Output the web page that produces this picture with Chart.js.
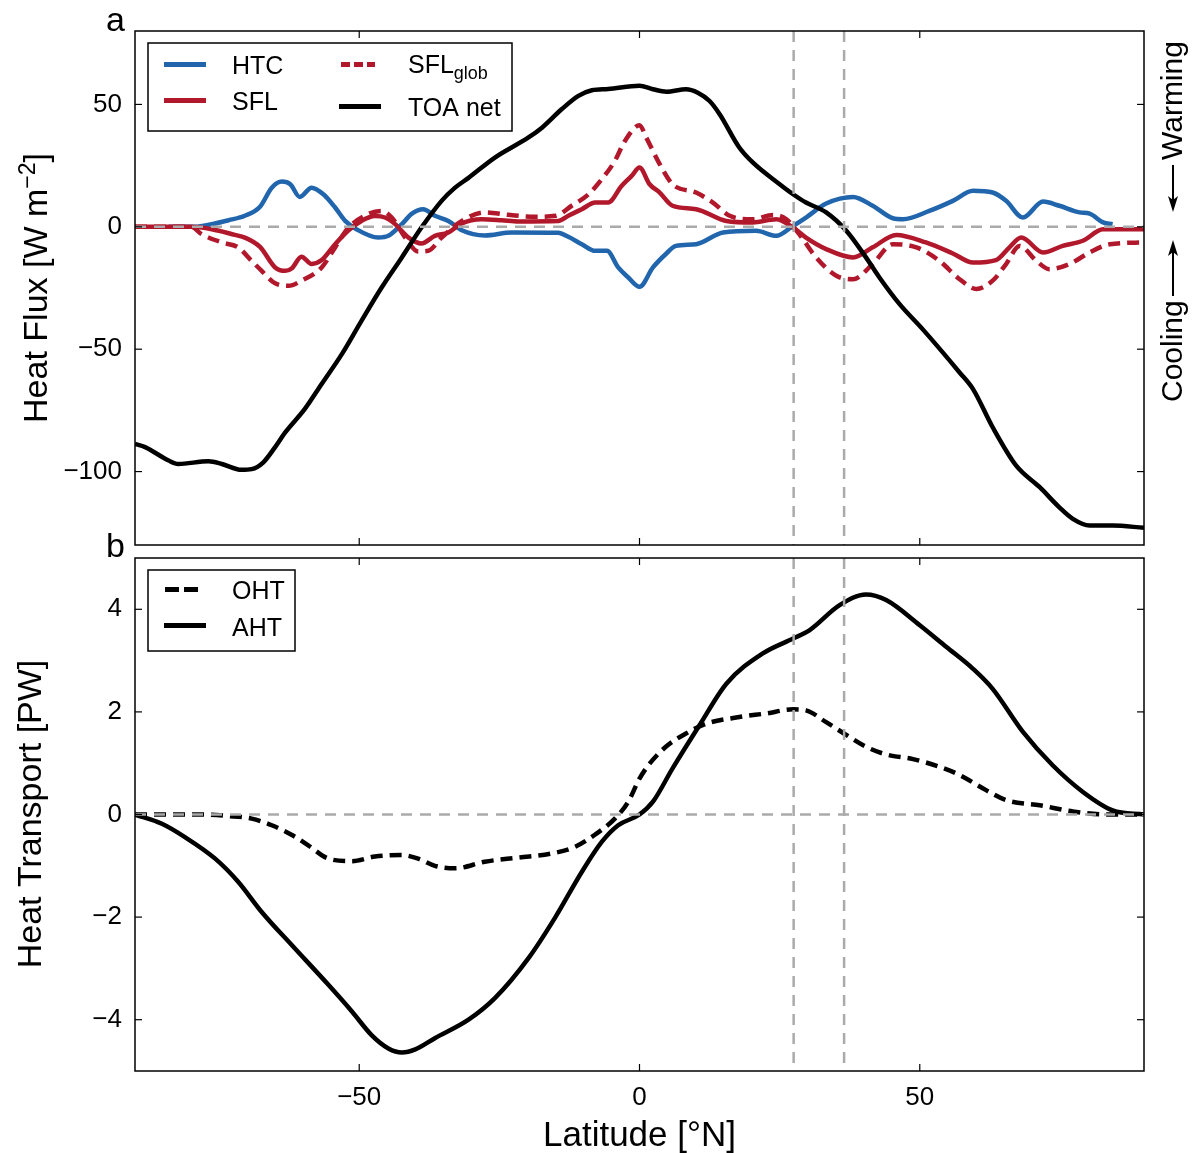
<!DOCTYPE html>
<html>
<head>
<meta charset="utf-8">
<script src="https://cdn.jsdelivr.net/npm/chart.js@4.4.0/dist/chart.umd.min.js"></script>
<style>
  html, body { margin: 0; padding: 0; background: #fff; }
  #wrap { position: relative; width: 1192px; height: 1153px; }
  #topBox { position: absolute; left: 0; top: 0; width: 1192px; height: 560px; }
  #botBox { position: absolute; left: 0; top: 548px; width: 1192px; height: 605px; }
</style>
</head>
<body>
<div id="wrap">
  <div id="topBox"><canvas id="fluxChart"></canvas></div>
  <div id="botBox"><canvas id="transportChart"></canvas></div>
</div>
<script>
// ticks and reference lines
const latTicks = [-50, 0, 50];
const fluxTicks = [-100, -50, 0, 50];
const transportTicks = [-4, -2, 0, 2, 4];
const refLat = [27.5, 36.5];

// panel a : heat flux [W m-2]
const htcLat = [-84,-79.3,-76.3,-73.3,-70.4,-67.7,-65.6,-63.8,-62.3,-60.6,-58.5,-56.4,-54.3,-52.5,-50.5,-46.6,-44.8,-42.4,-40.6,-38.6,-36.5,-34.1,-31.7,-27.6,-22.8,-14.5,-12.7,-10.3,-7.9,-5.8,-3.8,-2,0,2.4,4.8,6.5,10.1,14.9,20.8,24.4,27.4,29.7,33.3,38.1,41.6,45.2,47,51.7,55.9,59.5,63,65.4,68.4,72,74.9,78.5,80.3,82.7,84.4];
const htcVal = [0,0,1.1,2.7,4.5,8.2,16,18.5,17.4,12.2,16,13.3,7.9,2.4,-1,-4.4,-3.7,1.1,5.4,7.2,4.5,2.4,-1.4,-3.5,-2.3,-2.4,-4.1,-7.1,-9.8,-9.8,-16.6,-20.7,-24.5,-16.6,-10.9,-7.8,-7.1,-2.3,-1.6,-3.7,0.4,3.8,9.5,12.2,8.6,3.5,3.1,6.5,10.6,14.7,14,10.6,3.8,10.3,8.6,5.9,5.4,1.8,1.1];

const sflLat = [-90,-80,-76.3,-72.2,-70.4,-67.7,-65,-63.2,-62,-60.3,-58.5,-56.7,-54.3,-51.9,-49.6,-47.2,-45.4,-43.6,-41.2,-38.9,-36.5,-34.1,-31.7,-28.2,-24.6,-21.6,-14.5,-12.7,-10.3,-7.9,-5.6,-3.2,-1.4,0,1.8,3.6,5.9,10.1,15.5,20.2,24.4,27.4,29.7,33.3,38.1,41.6,45.8,51.1,55.9,59.5,63.6,66,68.1,72,75.5,79.1,82.7,90];
const sflVal = [0,0,-1,-3.3,-4.4,-8.2,-16.6,-18,-16.9,-12.2,-15.2,-13.6,-7.1,-1.4,2.4,4.4,3.8,1.1,-4.4,-6.8,-3.7,-2.3,1.4,3.1,2.7,2.2,2.4,4.5,7.2,9.9,9.9,16.7,20.8,24.2,17.4,14,8.6,7.2,2.4,1.8,3.1,-0.3,-4.4,-9.1,-12.5,-8.4,-3.3,-6.4,-10.9,-14.6,-13.6,-8.4,-4.4,-10.5,-7.8,-5.7,-1,-1];

const sflGlobLat = [-90,-80,-78.1,-74.5,-71.6,-69.2,-67.4,-65,-62.6,-60.3,-56.7,-54.3,-51.9,-48.4,-46,-44.2,-41.8,-39.5,-37.7,-35.3,-31.7,-27.6,-23.4,-18.6,-15,-12.1,-9.1,-6.7,-4.4,-2.6,0,1.2,3.6,5.9,10.1,13.1,16.1,20.2,23.8,26.2,28.5,31.5,35.1,38.1,41.6,45.2,49.4,53.5,57.1,60.1,63,65.4,67.8,70.8,73.1,76.7,80.3,83.9,90];
const sflGlobVal = [0,0,-3,-6.4,-8.4,-13.9,-18,-23.1,-24.1,-22,-16.6,-8.4,-0.3,5.2,6.5,3.8,-4.4,-10.1,-9.8,-4.4,2.4,5.9,4.9,4.1,4.5,8.6,13.3,19.5,26.9,35.1,41.5,36.5,25.6,17.4,14,9.9,4.5,3.1,4.8,3.1,-3,-12.5,-20,-21.4,-15.2,-7.1,-8.4,-13.9,-21.4,-25.4,-22,-15.2,-7.8,-13.9,-17.3,-15.2,-10.5,-7.1,-6.4];

const toaLat = [-90,-88.2,-84,-82.3,-76.9,-74.5,-71,-69.2,-67.1,-65,-63.2,-59.7,-56.7,-53.1,-49.6,-46,-42.4,-38.9,-35.3,-32.9,-30.5,-25.8,-19.8,-17.4,-13.9,-10.9,-8.5,-5.6,0,2.4,4.8,8.3,10.4,12.5,14.3,17.8,20.2,25,27.4,29.7,33.3,36.9,40.4,42.8,46.4,50.5,57.1,59.5,63,67.2,71.4,74.9,77.3,80.3,84.4,90];
const toaVal = [-88.7,-90,-95.5,-96.9,-95.8,-96.9,-99.3,-99,-96.2,-90,-84,-74.4,-64.2,-52,-38.4,-24.8,-12.5,-0.3,10.6,16,20,28.3,36.5,40.5,48,53.5,55.8,56.3,57.6,56.2,55.2,56.2,54.8,51.4,46,32.4,26.3,17.4,13.3,9.9,5.9,-1.6,-12.5,-20.7,-31.6,-41.8,-59.5,-66.3,-81.9,-97.6,-106.4,-114.6,-119.3,-122,-122,-123];

// panel b : heat transport [PW]
const ohtLat = [-90,-78.1,-73.3,-69.2,-65.6,-62,-59.1,-55.5,-51.3,-47.2,-42.4,-39.5,-36.5,-32.9,-27.6,-21.6,-15.7,-11.5,-7.9,-4.4,-2,0,1.8,4.8,8.3,11.9,17.8,22.6,27.4,29.7,33.3,36.9,40.4,44,48.8,53.5,57.1,61.9,65.4,71.4,77.3,83.3,90];
const ohtVal = [0,0,-0.03,-0.08,-0.21,-0.4,-0.6,-0.86,-0.91,-0.82,-0.79,-0.86,-1.0,-1.05,-0.92,-0.84,-0.76,-0.63,-0.39,-0.08,0.25,0.7,0.99,1.33,1.58,1.77,1.9,1.97,2.05,2.03,1.8,1.55,1.32,1.17,1.08,0.93,0.77,0.47,0.28,0.18,0.06,0,0];

const ahtLat = [-90,-85.2,-81.1,-75.7,-71.6,-67.4,-62,-55.5,-51.3,-47.8,-44.8,-42.4,-40,-36.5,-30.5,-25.8,-19.8,-15,-10.3,-6.7,-3.8,0,2.4,5.9,10.7,15.5,22,27.4,30.3,35.7,40.4,44,50,54.7,59.5,63,68.4,73.7,79.1,84.4,90];
const ahtVal = [0,-0.18,-0.44,-0.86,-1.31,-1.9,-2.55,-3.32,-3.84,-4.3,-4.56,-4.64,-4.58,-4.36,-4.0,-3.58,-2.8,-2.0,-1.12,-0.53,-0.21,0,0.25,0.9,1.74,2.55,3.14,3.43,3.59,4.08,4.29,4.18,3.69,3.27,2.84,2.45,1.61,0.96,0.44,0.08,0];

const BLUE = '#2166ac';
const RED = '#b2182b';
const GREY = '#aaaaaa';
const FONT = '"Liberation Sans", Arial, Helvetica, sans-serif';

function pts(xs, ys) {
  return xs.map((v, i) => ({ x: v, y: ys[i] }));
}

function minus(v) {
  return v < 0 ? '\u2212' + Math.abs(v) : String(v);
}

function line(ctx, x1, y1, x2, y2) {
  ctx.beginPath();
  ctx.moveTo(x1, y1);
  ctx.lineTo(x2, y2);
  ctx.stroke();
}

// text made of pieces of different size, [text, size, rise]
function richText(ctx, parts, x, y, center) {
  let w = 0;
  parts.forEach(p => { ctx.font = p[1] + 'px ' + FONT; w += ctx.measureText(p[0]).width; });
  let cx = center ? x - w / 2 : x;
  parts.forEach(p => {
    ctx.font = p[1] + 'px ' + FONT;
    ctx.fillText(p[0], cx, y - p[2]);
    cx += ctx.measureText(p[0]).width;
  });
}

function arrow(ctx, x, yFrom, yTo) {
  const dir = yTo > yFrom ? 1 : -1;
  ctx.lineWidth = 2;
  line(ctx, x, yFrom, x, yTo - dir * 8);
  ctx.beginPath();
  ctx.moveTo(x, yTo);
  ctx.lineTo(x - 5, yTo - dir * 16);
  ctx.lineTo(x, yTo - dir * 12);
  ctx.lineTo(x + 5, yTo - dir * 16);
  ctx.closePath();
  ctx.fill();
}

const panelDeco = {
  id: 'panelDeco',
  afterDatasetsDraw(chart, args, opts) {
    const { ctx, chartArea: a, scales: { x, y } } = chart;
    ctx.save();
    ctx.beginPath();
    ctx.rect(a.left, a.top, a.right - a.left, a.bottom - a.top);
    ctx.clip();
    ctx.strokeStyle = GREY;
    ctx.lineWidth = 2.5;
    ctx.setLineDash([11, 8]);
    refLat.forEach(v => {
      const px = x.getPixelForValue(v);
      line(ctx, px, a.top, px, a.bottom);
    });
    const py = y.getPixelForValue(0);
    line(ctx, a.left, py, a.right, py);
    ctx.restore();
  },
  afterDraw(chart, args, opts) {
    const { ctx, chartArea: a, scales: { x, y } } = chart;
    ctx.save();
    ctx.strokeStyle = '#000';
    ctx.fillStyle = '#000';
    ctx.setLineDash([]);
    ctx.lineWidth = 1.5;
    ctx.strokeRect(a.left, a.top, a.right - a.left, a.bottom - a.top);
    ctx.lineWidth = 1.2;
    latTicks.forEach(v => {
      const px = x.getPixelForValue(v);
      line(ctx, px, a.top, px, a.top + 7);
      line(ctx, px, a.bottom, px, a.bottom - 7);
    });
    opts.yTicks.forEach(v => {
      const py = y.getPixelForValue(v);
      line(ctx, a.left, py, a.left + 7, py);
      line(ctx, a.right, py, a.right - 7, py);
    });

    // legend
    const b = opts.legendBox;
    ctx.fillStyle = '#fff';
    ctx.fillRect(b[0], b[1], b[2], b[3]);
    ctx.lineWidth = 1.5;
    ctx.strokeStyle = '#000';
    ctx.strokeRect(b[0], b[1], b[2], b[3]);
    ctx.textAlign = 'left';
    ctx.textBaseline = 'alphabetic';
    opts.legend.forEach(it => {
      ctx.strokeStyle = it.color;
      ctx.lineWidth = 5;
      ctx.setLineDash(it.dash || []);
      line(ctx, it.line[0], it.line[2], it.line[1], it.line[2]);
      ctx.setLineDash([]);
      ctx.fillStyle = '#000';
      richText(ctx, it.text, it.tx, it.ty, false);
    });

    // axis titles and panel letters
    ctx.fillStyle = '#000';
    opts.texts.forEach(t => {
      ctx.save();
      ctx.translate(t.x, t.y);
      if (t.rot) ctx.rotate(-Math.PI / 2);
      richText(ctx, t.parts, 0, 0, t.center);
      ctx.restore();
    });
    if (opts.arrows) {
      opts.arrows.forEach(ar => arrow(ctx, ar[0], ar[1], ar[2]));
    }
    ctx.restore();
  }
};

function lineSet(label, xs, ys, color, dash, order) {
  return {
    label: label,
    data: pts(xs, ys),
    borderColor: color,
    borderWidth: 4.5,
    borderDash: dash,
    pointRadius: 0,
    fill: false,
    cubicInterpolationMode: 'monotone',
    borderJoinStyle: 'round',
    order: order
  };
}

function xScale(show) {
  return {
    type: 'linear', min: -90, max: 90, display: show,
    afterBuildTicks: s => { s.ticks = latTicks.map(v => ({ value: v })); },
    afterFit: s => {
      if (show) s.height = 82;
      s.paddingLeft = 0;
      s.paddingRight = 0;
    },
    grid: { display: false, drawTicks: false },
    border: { display: false },
    ticks: { padding: 11, maxRotation: 0, color: '#000', font: { family: FONT, size: 26 }, callback: v => minus(v) }
  };
}

function yScale(min, max, list) {
  return {
    type: 'linear', min: min, max: max,
    afterBuildTicks: s => { s.ticks = list.map(v => ({ value: v })); },
    afterFit: s => {
      s.width = 135;
      s.paddingTop = 0;
      s.paddingBottom = 0;
    },
    grid: { display: false, drawTicks: false },
    border: { display: false },
    ticks: { padding: 13, color: '#000', font: { family: FONT, size: 26 }, callback: v => minus(v) }
  };
}

new Chart(document.getElementById('fluxChart'), {
  type: 'line',
  data: {
    datasets: [
      lineSet('HTC', htcLat, htcVal, BLUE, [], 3),
      lineSet('SFL', sflLat, sflVal, RED, [], 2),
      lineSet('SFLglob', sflGlobLat, sflGlobVal, RED, [12, 7], 1),
      lineSet('TOA net', toaLat, toaVal, '#000', [], 0)
    ]
  },
  options: {
    responsive: true,
    maintainAspectRatio: false,
    animation: false,
    devicePixelRatio: 1,
    layout: { padding: { left: 0, top: 31, right: 48, bottom: 15 } },
    scales: { x: xScale(false), y: yScale(-130, 80, fluxTicks) },
    plugins: {
      legend: { display: false },
      tooltip: { enabled: false },
      panelDeco: {
        yTicks: fluxTicks,
        legendBox: [148, 43, 364, 88],
        legend: [
          { color: BLUE, line: [164, 206, 64.5], text: [['HTC', 25, 0]], tx: 232, ty: 74 },
          { color: RED, line: [164, 206, 100.5], text: [['SFL', 25, 0]], tx: 232, ty: 110 },
          { color: RED, dash: [9, 4], line: [341, 375, 64.5], text: [['SFL', 25, 0], ['glob', 18, -6]], tx: 408, ty: 73 },
          { color: '#000', line: [339, 381, 106.5], text: [['TOA net', 25, 0]], tx: 408, ty: 116 }
        ],
        texts: [
          { x: 47, y: 288, rot: true, center: true, parts: [['Heat Flux [W m', 34, 0], ['\u22122', 23, 12], [']', 34, 0]] },
          { x: 1182, y: 160, rot: true, center: false, parts: [['Warming', 30, 0]] },
          { x: 1182, y: 402, rot: true, center: false, parts: [['Cooling', 30, 0]] },
          { x: 106, y: 31, center: false, parts: [['a', 34, 0]] },
          { x: 106, y: 557, center: false, parts: [['b', 34, 0]] }
        ],
        arrows: [[1173, 165, 212], [1173, 296, 240]]
      }
    }
  },
  plugins: [panelDeco]
});

new Chart(document.getElementById('transportChart'), {
  type: 'line',
  data: {
    datasets: [
      lineSet('OHT', ohtLat, ohtVal, '#000', [12, 7], 1),
      lineSet('AHT', ahtLat, ahtVal, '#000', [], 0)
    ]
  },
  options: {
    responsive: true,
    maintainAspectRatio: false,
    animation: false,
    devicePixelRatio: 1,
    layout: { padding: { left: 0, top: 10, right: 48, bottom: 0 } },
    scales: { x: xScale(true), y: yScale(-5, 5, transportTicks) },
    plugins: {
      legend: { display: false },
      tooltip: { enabled: false },
      panelDeco: {
        yTicks: transportTicks,
        legendBox: [148, 22, 147, 81],
        legend: [
          { color: '#000', dash: [14, 5], line: [165, 199, 41.5], text: [['OHT', 25, 0]], tx: 232, ty: 51 },
          { color: '#000', line: [164, 206, 77.5], text: [['AHT', 25, 0]], tx: 232, ty: 88 }
        ],
        texts: [
          { x: 41, y: 266, rot: true, center: true, parts: [['Heat Transport [PW]', 34, 0]] },
          { x: 639.5, y: 598, center: true, parts: [['Latitude [\u00b0N]', 35, 0]] }
        ]
      }
    }
  },
  plugins: [panelDeco]
});
</script>
</body>
</html>
